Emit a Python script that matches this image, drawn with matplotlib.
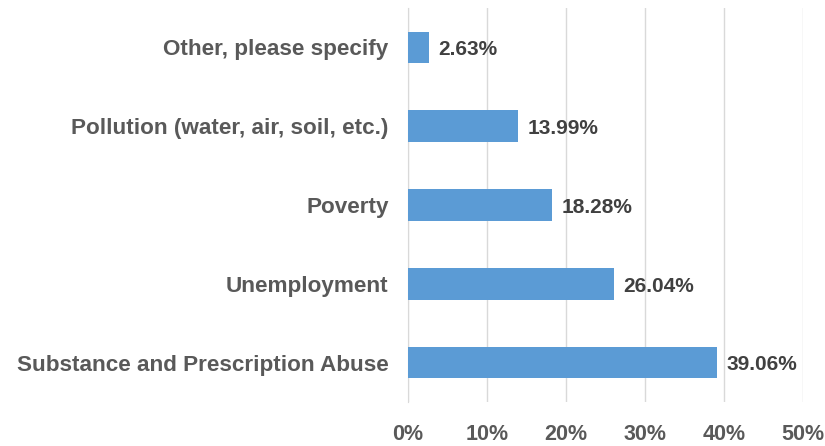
import matplotlib.pyplot as plt
import numpy as np

plt.rcParams['font.family'] = ['Liberation Sans', 'DejaVu Sans']

categories = [
    "Substance and Prescription Abuse",
    "Unemployment",
    "Poverty",
    "Pollution (water, air, soil, etc.)",
    "Other, please specify",
]
values = [39.06, 26.04, 18.28, 13.99, 2.63]
xticks = [0, 10, 20, 30, 40, 50]

fig = plt.figure(figsize=(8.25, 4.46), dpi=100)
ax = fig.add_axes([0.4945, 0.0987, 0.4788, 0.8833])

y = np.arange(len(categories))
ax.barh(y, values, height=0.4, color="#5B9BD5", zorder=3)

for yi, v in zip(y, values):
    ax.text(v + 1.2, yi - 0.03, f"{v:.2f}%", va="center", ha="left",
            fontsize=15, fontweight="bold", color="#404040", zorder=4)

ax.set_xlim(0, 50)
ax.set_ylim(-0.5, len(categories) - 0.5)
ax.set_xticks(xticks)
ax.set_xticklabels([f"{t}%" for t in xticks])
ax.set_yticks(y)
ax.set_yticklabels(categories)

ax.grid(axis="x", color="#D9D9D9", linewidth=1, zorder=0)
for s in ["top", "right", "bottom"]:
    ax.spines[s].set_visible(False)
ax.spines["left"].set_color("#D9D9D9")
ax.tick_params(axis="both", length=0)
ax.tick_params(axis="y", pad=14, labelsize=16.2, labelcolor="#595959")
ax.tick_params(axis="x", pad=16, labelsize=15.5, labelcolor="#595959")
for lab in ax.get_xticklabels() + ax.get_yticklabels():
    lab.set_fontweight("bold")

fig.savefig("out.png", dpi=100)
